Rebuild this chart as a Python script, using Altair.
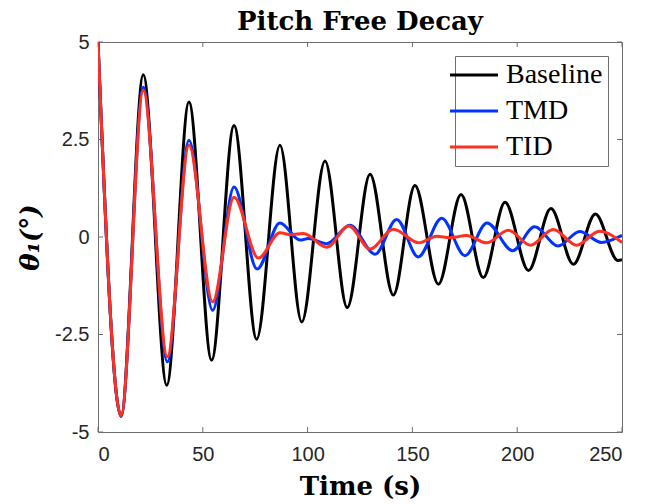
import altair as alt
import pandas as pd

# ---- data (extrema and a few shape points) ----
baseline_t = [0, 11.0, 21.6, 32.8, 43.4, 54.2, 64.9, 75.7, 86.8, 97.2, 108.3, 118.9,
              129.8, 140.9, 151.2, 162.4, 173.2, 183.8, 194.2, 205.4, 216.1, 226.8,
              237.3, 248.0, 250.0]
baseline_v = [5.0, -4.60, 4.16, -3.80, 3.46, -3.16, 2.86, -2.62, 2.35, -2.18, 1.95, -1.81,
              1.61, -1.49, 1.32, -1.21, 1.09, -1.04, 0.89, -0.86, 0.73, -0.70,
              0.59, -0.60, -0.58]

tmd_t = [0, 11.0, 21.6, 33.1, 43.4, 54.7, 64.9, 75.9, 86.8, 96.4, 100.3, 109.1,
         120.2, 132.2, 142.5, 152.8, 164.0, 175.1, 185.6, 197.8, 208.3, 219.5,
         229.8, 240.2, 250.0]
tmd_v = [5.0, -4.58, 3.84, -3.20, 2.48, -1.88, 1.28, -0.82, 0.36, -0.08, -0.04, -0.17,
         0.30, -0.44, 0.45, -0.51, 0.48, -0.48, 0.36, -0.35, 0.26, -0.23,
         0.14, -0.14, 0.04]

tid_t = [0, 11.0, 21.6, 33.1, 43.4, 54.7, 64.9, 76.5, 86.8, 92.1, 98.0, 109.1,
         119.7, 129.8, 140.9, 153.1, 161.6, 167.9, 175.9, 185.4, 195.8, 206.3,
         217.2, 228.4, 239.2, 250.0]
tid_v = [5.0, -4.58, 3.76, -3.07, 2.35, -1.66, 1.02, -0.54, 0.11, 0.06, 0.09, -0.26,
         0.28, -0.31, 0.20, -0.15, 0.02, -0.02, 0.04, -0.15, 0.17, -0.21,
         0.19, -0.21, 0.15, -0.14]

series_names = ["Baseline", "TMD", "TID"]
series_colors = ["#000000", "#0033ff", "#ff3020"]
x_ticks = [0, 50, 100, 150, 200, 250]
y_ticks = [-5, -2.5, 0, 2.5, 5]

rows = []
for name, ts, vs in zip(series_names, [baseline_t, tmd_t, tid_t], [baseline_v, tmd_v, tid_v]):
    for t, v in zip(ts, vs):
        rows.append({"series": name, "t": t, "v": v})
df = pd.DataFrame(rows)
xt_df = pd.DataFrame({"t": x_ticks})
yt_df = pd.DataFrame({"v": y_ticks})

W, H = 524, 390
FRAME = "#6e6e6e"
TICK_LEN = 5
SERIF = "Liberation Serif"

xscale = alt.Scale(domain=[0, 250], nice=False, zero=False)
yscale = alt.Scale(domain=[-5, 5], nice=False, zero=False)

x_axis = alt.Axis(values=x_ticks, title="Time (s)", labelExpr="'' + datum.value",
                  labelPadding=12, titlePadding=9)
y_axis = alt.Axis(values=y_ticks, title="θ₁(°)", labelExpr="'' + datum.value",
                  labelPadding=9, titlePadding=11, titleFontStyle="italic")

x_enc = alt.X("t:Q", scale=xscale, axis=x_axis)
y_enc = alt.Y("v:Q", scale=yscale, axis=y_axis)

color_enc = alt.Color(
    "series:N",
    scale=alt.Scale(domain=series_names, range=series_colors),
    legend=alt.Legend(
        title=None, orient="top-right", offset=14,
        symbolType="M-2,0H2", symbolSize=576, symbolStrokeWidth=3,
        labelFont=SERIF, labelFontSize=28, labelColor="black",
        labelOffset=18, strokeColor=FRAME, fillColor="white",
        padding=5, rowPadding=8,
    ),
)


def line_layer(name):
    return (
        alt.Chart(df)
        .transform_filter(alt.datum.series == name)
        .mark_line(strokeWidth=3, interpolate="monotone", clip=True)
        .encode(x=x_enc, y=y_enc, color=color_enc)
    )


tick_bottom = alt.Chart(xt_df).mark_rule(color=FRAME, strokeWidth=1).encode(
    x=x_enc, y=alt.value(H), y2=alt.value(H - TICK_LEN))
tick_top = alt.Chart(xt_df).mark_rule(color=FRAME, strokeWidth=1).encode(
    x=x_enc, y=alt.value(0), y2=alt.value(TICK_LEN))
tick_left = alt.Chart(yt_df).mark_rule(color=FRAME, strokeWidth=1).encode(
    y=y_enc, x=alt.value(0), x2=alt.value(TICK_LEN))
tick_right = alt.Chart(yt_df).mark_rule(color=FRAME, strokeWidth=1).encode(
    y=y_enc, x=alt.value(W), x2=alt.value(W - TICK_LEN))

chart = (
    alt.layer(tick_bottom, tick_top, tick_left, tick_right,
              line_layer("Baseline"), line_layer("TMD"), line_layer("TID"))
    .properties(
        width=W, height=H,
        title=alt.TitleParams("Pitch Free Decay", font="DejaVu Serif", fontWeight="bold",
                              fontSize=26, color="black", anchor="middle", offset=8,
                              frame="group", dy=11),
        autosize=alt.AutoSizeParams(type="none"),
        padding={"left": 90, "top": 34, "right": 24, "bottom": 68},
    )
    .configure_view(stroke=FRAME, strokeWidth=1)
    .configure_axis(
        domain=False, ticks=False, tickSize=0, grid=False,
        labelFont="Liberation Sans", labelFontSize=20, labelColor="#262626",
        titleFont="DejaVu Serif", titleFontWeight="bold", titleFontSize=26,
        titleColor="black",
    )
    .configure_legend(labelFont=SERIF, labelFontSize=28)
)

chart.save("out.html", embed_options={"renderer": "svg", "actions": False})
